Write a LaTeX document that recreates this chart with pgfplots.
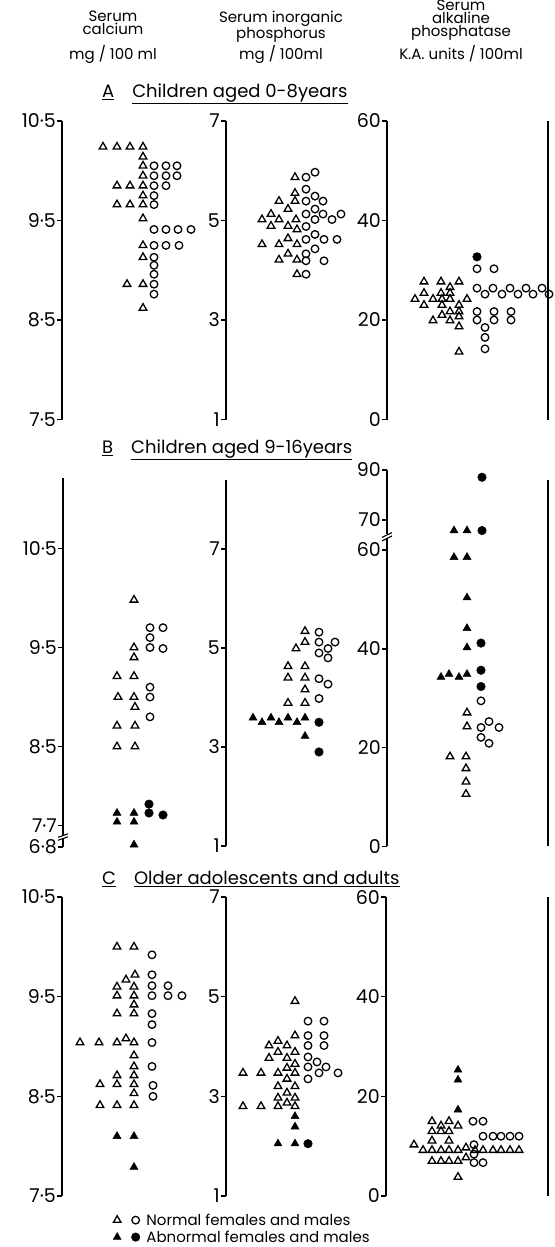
\documentclass[border=0pt]{standalone}
\usepackage{fontspec}
\setmainfont{Poppins}
\usepackage{pgfplots}
\pgfplotsset{compat=1.18}

\newcommand\tickfont{\fontsize{19}{19}\selectfont}
\newcommand\headfont{\fontsize{15}{13}\selectfont}
\newcommand\titlefont{\fontsize{18}{18}\selectfont}
\newcommand\keyfont{\fontsize{15}{15}\selectfont}

\pgfplotsset{
  panel/.style={scale only axis, clip=false, anchor=south west,
    axis x line=none, axis y line=left,
    y axis line style={line width=1.4pt,-},
    xmin=0, ytick pos=left, tick align=outside,
    major tick length=5pt,
    every tick/.style={black,line width=1.2pt},
    yticklabel style={font=\tickfont, inner sep=1pt}},
  phos/.style={ymin=1, ytick={1,3,5,7}, yticklabels={1,3,5,7}},
  alp/.style={ymin=0, ymax=60, ytick={0,20,40,60}, yticklabels={0,20,40,60}},
  normT/.style={only marks, mark=triangle, mark size=4.4pt,
    mark options={draw=black, line width=1.3pt}},
  normC/.style={only marks, mark=o, mark size=3.8pt,
    mark options={draw=black, line width=1.3pt}},
  abnT/.style={only marks, mark=triangle*, mark size=4.6pt,
    mark options={draw=black, fill=black, line width=0.5pt}},
  abnC/.style={only marks, mark=*, mark size=4.3pt,
    mark options={draw=black, fill=black}},
}

\begin{document}
\begin{tikzpicture}
\useasboundingbox (0,0) rectangle (554pt,-1247pt);

% column heads
\begin{scope}[every node/.style={font=\headfont, inner sep=0pt, align=center}]
\node[anchor=north] at (113pt,-11pt) {Serum\\calcium};
\node at (113pt,-54pt) {mg / 100 ml};
\node[anchor=north] at (281pt,-11pt) {Serum inorganic\\phosphorus};
\node at (281pt,-54pt) {mg / 100ml};
\node[anchor=north] at (461pt,0pt) {Serum\\alkaline\\phosphatase};
\node at (461pt,-54pt) {K.A. units / 100ml};
\end{scope}

\begin{scope}[every node/.style={font=\titlefont, anchor=west, inner sep=0pt}]
\node at (102pt,-94pt) {\underline{A}\hspace{18pt}\underline{Children aged 0-8years}};
\node at (102pt,-450pt) {\underline{B}\hspace{18pt}\underline{Children aged 9-16years}};
\node at (102pt,-879pt) {\underline{C}\hspace{18pt}\underline{Older adolescents and adults}};
\end{scope}

%% ---------------- A: children aged 0-8 years
\begin{axis}[panel, at={(62pt,-419.5pt)}, width=164pt, height=298.5pt,
  xmax=164, ymin=7.5, ymax=10.5,
  ytick={7.5,8.5,9.5,10.5}, yticklabels={7·5,8·5,9·5,10·5}]
\addplot[normT] coordinates {
  (41,10.24) (55,10.24) (68,10.24) (81,10.24) (81,10.14) (81,10.05)
  (81,9.95) (55,9.85) (68,9.85) (81,9.85) (81,9.75) (55,9.66) (68,9.66)
  (81,9.66) (81,9.52) (81,9.25) (81,9.13) (65,8.86) (81,8.86) (81,8.62)};
\addplot[normC] coordinates {
  (92,10.05) (104,10.05) (115,10.05) (92,9.95) (104,9.95) (115,9.95)
  (92,9.85) (104,9.85) (92,9.75) (92,9.66) (92,9.41) (104,9.41)
  (116,9.41) (129,9.41) (92,9.25) (104,9.25) (117,9.25) (92,9.13)
  (92,9.05) (92,8.96) (92,8.86) (92,8.76)};
\end{axis}

\begin{axis}[panel, phos, at={(226pt,-419.5pt)}, width=161pt, height=298.5pt,
  xmax=161, ymax=7]
\addplot[normT] coordinates {
  (69,5.87) (69,5.55) (53,5.39) (69,5.39) (62,5.23) (45,5.13) (36,5.02)
  (53,5.02) (70,5.02) (45,4.89) (62,4.89) (71,4.82) (62,4.64) (36,4.52)
  (53,4.52) (71,4.52) (62,4.33) (53,4.21) (71,4.21) (71,3.92)};
\addplot[normC] coordinates {
  (80,5.87) (89,5.97) (80,5.63) (89,5.49) (80,5.39) (97,5.39) (89,5.23)
  (80,5.13) (97,5.13) (115,5.13) (89,5.02) (106,5.02) (80,4.88) (89,4.72)
  (80,4.62) (98,4.62) (111,4.62) (89,4.43) (80,4.33) (80,4.19) (98,4.19)
  (80,3.92)};
\end{axis}

\begin{axis}[panel, alp, at={(387pt,-419.5pt)}, width=161pt, height=298.5pt,
  xmax=161]
\addplot[normT] coordinates {
  (37,27.7) (54,27.7) (72,27.7) (63,26.6) (37,25.4) (54,25.4) (63,25.4)
  (28,24.2) (46,24.2) (55,24.2) (63,24.2) (80,24.2) (37,23.0) (55,23.0)
  (72,23.0) (63,21.7) (72,21.7) (55,21.0) (46,19.9) (63,19.9) (72,20.7)
  (72,18.7) (72,13.6)};
\addplot[normC] coordinates {
  (90,30.3) (107,30.3) (90,26.4) (106,26.4) (123,26.4) (139,26.4)
  (155,26.4) (98,25.2) (115,25.2) (131,25.2) (146,25.2) (162,25.2)
  (90,21.7) (107,21.7) (124,21.7) (90,20.0) (107,20.0) (124,20.0)
  (98,18.5) (98,16.5) (98,14.2)};
\addplot[abnC] coordinates {(90,32.7)};
\draw[line width=1.4pt] (axis cs:161,0) -- (axis cs:161,60);
\end{axis}

%% ---------------- B: children aged 9-16 years
\begin{axis}[panel, at={(63pt,-847pt)}, width=163pt, height=369pt,
  xmax=163, ymin=7.487, ymax=11.21,
  ytick={7.487,7.7,8.5,9.5,10.5}, yticklabels={6·8,7·7,8·5,9·5,10·5}]
\addplot[normT] coordinates {
  (71,9.98) (71,9.50) (71,9.40) (54,9.21) (71,9.21) (55,9.00) (71,9.00)
  (72,8.90) (54,8.71) (72,8.71) (54,8.50) (72,8.50)};
\addplot[normC] coordinates {
  (87,9.70) (100,9.70) (87,9.60) (87,9.50) (100,9.49) (87,9.10)
  (87,9.00) (87,8.80)};
\addplot[abnT] coordinates {
  (54,7.83) (71,7.83) (54,7.74) (71,7.74) (71,7.51)};
\addplot[abnC] coordinates {(86,7.92) (86,7.83) (100,7.81)};
\fill[white] (axis cs:-3,7.575) rectangle (axis cs:3,7.61);
\draw[line width=1.1pt] (axis cs:-5,7.585) -- (axis cs:5,7.62);
\draw[line width=1.1pt] (axis cs:-5,7.555) -- (axis cs:5,7.59);
\end{axis}

\begin{axis}[panel, phos, at={(226pt,-846pt)}, width=161pt, height=365.8pt,
  xmax=161, ymax=8.39]
\addplot[normT] coordinates {
  (79,5.34) (79,5.12) (70,4.99) (62,4.63) (79,4.63) (62,4.40) (79,4.40)
  (79,4.16) (62,3.89) (79,3.89)};
\addplot[normC] coordinates {
  (93,5.32) (93,5.12) (109,5.12) (93,4.90) (102,4.99) (102,4.80)
  (93,4.38) (102,4.27) (93,3.98)};
\addplot[abnT] coordinates {
  (27,3.59) (36,3.50) (45,3.59) (53,3.50) (62,3.59) (71,3.50) (79,3.59)
  (79,3.22)};
\addplot[abnC] coordinates {(93,3.50) (93,2.90)};
\end{axis}

\begin{axis}[panel, at={(387pt,-846.4pt)}, width=161pt, height=376.4pt,
  xmax=161, ymin=0, ymax=76.27,
  ytick={0,20,40,60.06,66.14,76.27}, yticklabels={0,20,40,60,70,90}]
\addplot[normT] coordinates {
  (80,27.1) (80,24.3) (63,18.2) (79,18.2) (79,15.8) (79,13.1) (79,10.6)};
\addplot[normC] coordinates {
  (94,29.5) (94,24.1) (102,25.3) (112,24.1) (94,22.1) (102,20.9)};
\addplot[abnT] coordinates {
  (67,64.0) (80,64.0) (67,58.6) (80,58.6) (80,50.4) (80,44.2) (80,40.3)
  (54,34.3) (62,34.9) (72,34.3) (80,34.9)};
\addplot[abnC] coordinates {
  (95,74.8) (95,64.0) (94,41.2) (94,35.7) (94,32.4)};
\fill[white] (axis cs:-3,62.4) rectangle (axis cs:3,63.3);
\draw[line width=1.1pt] (axis cs:-5,62.6) -- (axis cs:5,63.6);
\draw[line width=1.1pt] (axis cs:-5,61.9) -- (axis cs:5,62.9);
\draw[line width=1.4pt] (axis cs:161,0) -- (axis cs:161,74.24);
\end{axis}

%% ---------------- C: older adolescents and adults
\begin{axis}[panel, at={(62pt,-1196pt)}, width=164pt, height=299pt,
  xmax=164, ymin=7.5, ymax=10.5,
  ytick={7.5,8.5,9.5,10.5}, yticklabels={7·5,8·5,9·5,10·5},
  legend style={at={(axis cs:51,7.345)}, anchor=north west, draw=none,
    fill=none, font=\keyfont, inner sep=0pt, row sep=0pt},
  legend cell align=left]
\addlegendimage{legend image code/.code={
  \draw[black,line width=1.3pt] plot[only marks, mark=triangle, mark size=4.4pt] coordinates {(0.1cm,0cm)};
  \draw[black,line width=1.3pt] plot[only marks, mark=o, mark size=3.8pt] coordinates {(0.75cm,0cm)};
  \path (1.05cm,0cm);}}
\addlegendentry{Normal females and males}
\addlegendimage{legend image code/.code={
  \fill[black] plot[only marks, mark=triangle*, mark size=4.6pt] coordinates {(0.1cm,0cm)};
  \fill[black] plot[only marks, mark=*, mark size=4.3pt] coordinates {(0.75cm,0cm)};
  \path (1.05cm,0cm);}}
\addlegendentry{Abnormal females and males}
\addplot[normT] coordinates {
  (55,10.0) (72,10.0) (73,9.72) (64,9.67) (55,9.60) (72,9.60) (55,9.51)
  (72,9.51) (72,9.42) (55,9.33) (72,9.33) (18,9.04) (37,9.04) (55,9.04)
  (64,9.08) (72,9.04) (72,8.91) (72,8.80) (55,8.71) (72,8.71) (38,8.62)
  (55,8.62) (72,8.62) (72,8.53) (38,8.41) (55,8.41) (72,8.41)};
\addplot[normC] coordinates {
  (90,9.92) (90,9.72) (90,9.61) (106,9.61) (90,9.51) (106,9.51)
  (120,9.51) (90,9.33) (90,9.22) (90,9.04) (90,8.80) (91,8.61) (91,8.50)};
\addplot[abnT] coordinates {(55,8.10) (72,8.10) (72,7.79)};
\end{axis}

\begin{axis}[panel, phos, at={(226pt,-1196pt)}, width=160pt, height=299pt,
  xmax=160, ymax=7]
\addplot[normT] coordinates {
  (69,4.91) (69,4.22) (43,4.02) (52,4.11) (61,4.02) (52,3.89) (69,3.89)
  (43,3.77) (61,3.77) (69,3.65) (61,3.57) (17,3.47) (35,3.47) (52,3.47)
  (69,3.47) (61,3.35) (52,3.20) (69,3.20) (61,3.07) (52,2.97) (69,2.97)
  (61,2.87) (17,2.80) (35,2.80) (52,2.80) (69,2.80)};
\addplot[normC] coordinates {
  (82,4.51) (98,4.51) (82,4.22) (98,4.22) (82,4.02) (98,4.02) (82,3.79)
  (91,3.69) (82,3.59) (100,3.59) (93,3.47) (112,3.47) (82,3.35)};
\addplot[abnT] coordinates {(69,2.60) (69,2.39) (52,2.05) (69,2.05)};
\addplot[abnC] coordinates {(82,2.05)};
\end{axis}

\begin{axis}[panel, alp, at={(386pt,-1196pt)}, width=162pt, height=299pt,
  xmax=162]
\addplot[normT] coordinates {
  (46,15.0) (55,14.1) (63,15.0) (72,14.1) (46,13.0) (55,13.0) (63,13.0)
  (46,11.1) (63,11.1) (28,10.3) (37,9.2) (46,9.2) (55,9.2) (63,9.2)
  (72,9.2) (80,9.7) (89,9.2) (97,9.2) (107,9.2) (115,9.2) (124,9.2)
  (133,9.2) (46,7.0) (55,7.0) (63,7.0) (72,7.0) (80,7.7) (72,3.8)};
\addplot[normC] coordinates {
  (87,15.0) (97,15.0) (97,12.0) (107,12.0) (115,12.0) (124,12.0)
  (133,12.0) (88,10.3) (88,8.4) (88,6.7) (97,6.7)};
\addplot[abnT] coordinates {(72,25.3) (72,23.3) (72,17.3)};
\draw[line width=1.4pt] (axis cs:162,0) -- (axis cs:162,60);
\end{axis}
\end{tikzpicture}
\end{document}
